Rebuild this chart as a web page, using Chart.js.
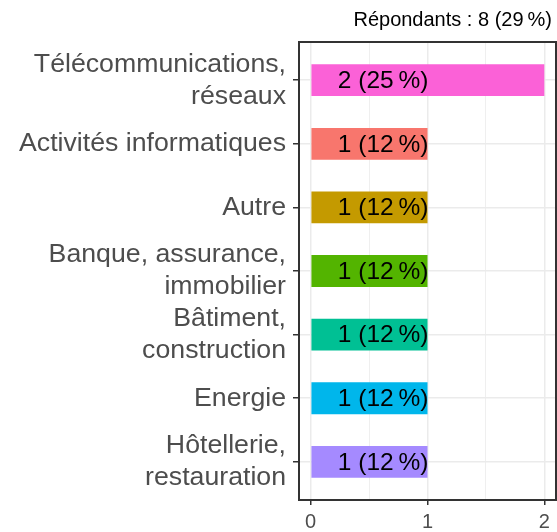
<!DOCTYPE html>
<html>
<head>
<meta charset="utf-8">
<script src="https://cdn.jsdelivr.net/npm/chart.js@4.4.1/dist/chart.umd.min.js"></script>
<style>
  html, body { margin: 0; padding: 0; background: #fff; }
</style>
</head>
<body>
<canvas id="chart" width="557" height="532"></canvas>
<script>
// data, top to bottom
const categories = [
  ['Télécommunications,', 'réseaux'],
  'Activités informatiques',
  'Autre',
  ['Banque, assurance,', 'immobilier'],
  ['Bâtiment,', 'construction'],
  'Energie',
  ['Hôtellerie,', 'restauration']
];
const counts = [2, 1, 1, 1, 1, 1, 1];
const barLabels = ['2 (25\u202F%)', '1 (12\u202F%)', '1 (12\u202F%)', '1 (12\u202F%)', '1 (12\u202F%)', '1 (12\u202F%)', '1 (12\u202F%)'];
const barColors = ['#FB61D7', '#F8766D', '#C49A00', '#53B400', '#00C094', '#00B6EB', '#A58AFF'];
const xTicks = [0, 0.5, 1, 1.5, 2]; // halves are minor grid lines only
const labelAnchor = 1; // labels end here (x value)
const respondents = 'Répondants : 8 (29\u202F%)';

const FONT = '"Liberation Sans", Arial, sans-serif';
Chart.defaults.font.family = FONT;

const isMajor = v => Number.isInteger(v);

// panel border + subtitle
const panel = {
  id: 'panel',
  afterDraw(chart) {
    const { ctx, chartArea: a } = chart;
    ctx.save();
    ctx.strokeStyle = '#333333';
    ctx.lineWidth = 2;
    ctx.strokeRect(a.left, a.top, a.right - a.left, a.bottom - a.top);
    ctx.font = '20px ' + FONT;
    ctx.fillStyle = '#000';
    ctx.textAlign = 'right';
    ctx.textBaseline = 'alphabetic';
    ctx.fillText(respondents, a.right - 4, 26);
    ctx.restore();
  }
};

// count labels inside the bars
const barText = {
  id: 'barText',
  afterDatasetsDraw(chart) {
    const { ctx, scales: { x, y } } = chart;
    ctx.save();
    ctx.font = '24.5px ' + FONT;
    ctx.fillStyle = '#000';
    ctx.textAlign = 'right';
    ctx.textBaseline = 'middle';
    barLabels.forEach((t, i) => {
      ctx.fillText(t, x.getPixelForValue(labelAnchor) + 1, y.getPixelForValue(i) + 1);
    });
    ctx.restore();
  }
};

new Chart(document.getElementById('chart'), {
  type: 'bar',
  data: {
    datasets: [{
      data: counts.map((v, i) => ({ x: v, y: i })),
      backgroundColor: barColors,
      borderWidth: 0,
      categoryPercentage: 1,
      barPercentage: 0.5
    }]
  },
  options: {
    indexAxis: 'y',
    responsive: false,
    animation: false,
    layout: { padding: { top: 42, right: 1, left: 0, bottom: 0 } },
    plugins: { legend: { display: false }, tooltip: { enabled: false } },
    scales: {
      x: {
        type: 'linear',
        min: -0.1,
        max: 2.1,
        afterBuildTicks: s => { s.ticks = xTicks.map(v => ({ value: v })); },
        afterFit: s => { s.height = 32; },
        border: { display: false },
        grid: {
          color: '#EBEBEB',
          lineWidth: c => isMajor(c.tick.value) ? 1.5 : 0.8,
          tickColor: c => isMajor(c.tick.value) ? '#333333' : 'rgba(0,0,0,0)',
          tickLength: 5,
          tickWidth: 1.5
        },
        ticks: {
          autoSkip: false,
          maxRotation: 0,
          padding: 5,
          color: '#4D4D4D',
          font: { size: 20 },
          callback: v => isMajor(v) ? String(v) : ''
        }
      },
      y: {
        type: 'linear',
        reverse: true,
        offset: false,
        min: -0.6,
        max: 6.6,
        afterBuildTicks: s => { s.ticks = categories.map((c, i) => ({ value: i })); },
        afterFit: s => { s.width = 299; s.paddingTop = 0; s.paddingBottom = 0; },
        border: { display: false },
        grid: {
          offset: false,
          color: '#EBEBEB',
          lineWidth: 1.5,
          tickColor: '#333333',
          tickLength: 6,
          tickWidth: 1.5
        },
        ticks: {
          autoSkip: false,
          padding: 7,
          color: '#4D4D4D',
          font: { size: 26.7, lineHeight: 1.2 },
          callback: v => categories[v]
        }
      }
    }
  },
  plugins: [barText, panel]
});
</script>
</body>
</html>
